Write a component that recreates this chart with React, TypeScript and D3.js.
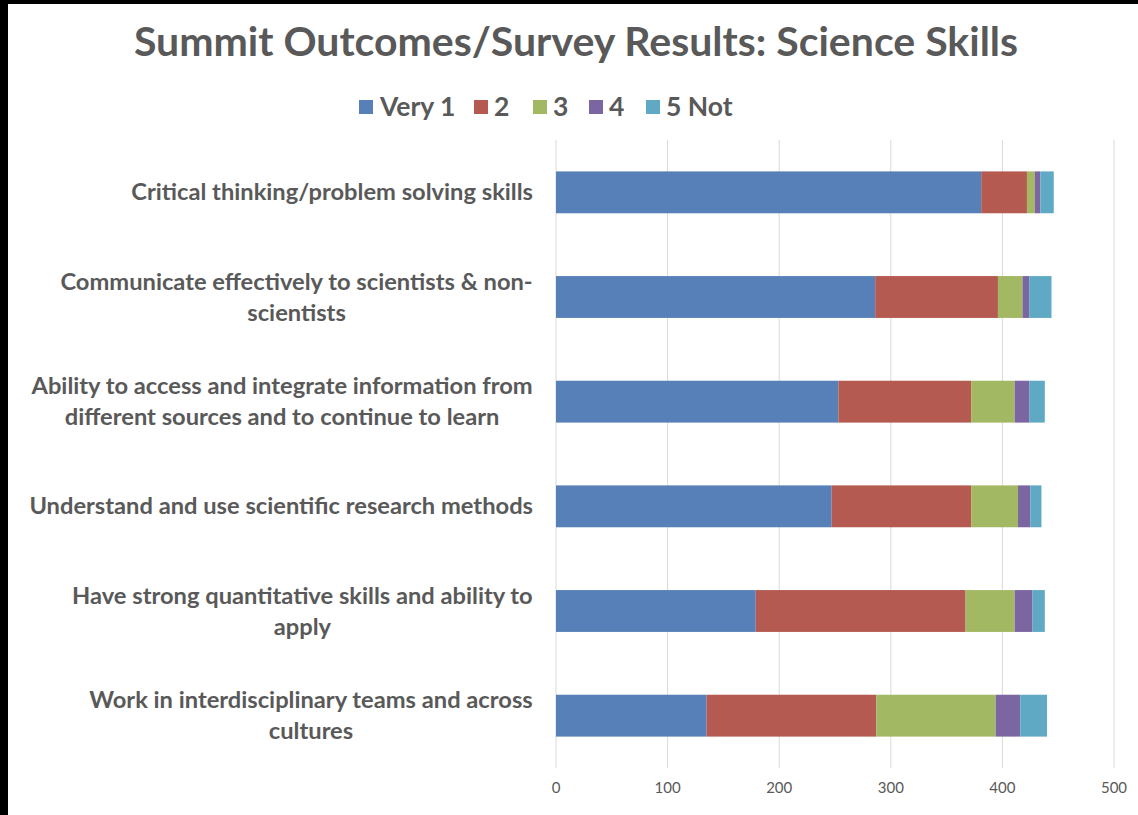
import React from "react";
import * as d3 from "d3";

const categories = [
  ["Critical thinking/problem solving skills"],
  ["Communicate effectively to scientists & non-", "scientists"],
  ["Ability to access and integrate information from", "different sources and to continue to learn"],
  ["Understand and use scientific research methods"],
  ["Have strong quantitative skills and ability to", "apply"],
  ["Work in interdisciplinary teams and across", "cultures"],
];

const seriesNames = ["Very 1", "2", "3", "4", "5 Not"];
const very1 = [381, 286, 253, 247, 179, 135];
const s2 = [41, 110, 119, 125, 188, 152];
const s3 = [7, 22, 39, 42, 44, 107];
const s4 = [5, 6, 13, 11, 16, 22];
const s5 = [12, 20, 14, 10, 11, 24];
const seriesValues = [very1, s2, s3, s4, s5];
const colors = ["#5880b8", "#b55a51", "#a2b863", "#7c66a1", "#60a9c5"];
const xTicks = [0, 100, 200, 300, 400, 500];
const title = "Summit Outcomes/Survey Results: Science Skills";

const W = 1138;
const H = 815;
const FONT = "Lato, 'Open Sans', sans-serif";
const TEXT = "#595959";
const LABEL_SIZE = 23.7;

let measureCtx: CanvasRenderingContext2D | null = null;
function measure(s: string, font: string) {
  if (!measureCtx) {
    const c = document.createElement("canvas");
    measureCtx = c.getContext("2d");
  }
  if (!measureCtx) return s.length * 11;
  measureCtx.font = font;
  return measureCtx.measureText(s).width;
}

export default function App() {
  const keys = categories.map((c) => c.join(" "));
  const x = d3.scaleLinear().domain([0, 500]).range([556, 1114]);
  const y = d3
    .scaleBand<string>()
    .domain(keys)
    .range([140, 768])
    .paddingInner(0.6)
    .paddingOuter(0.3);

  const rows = keys.map((k, i) => {
    const obj: any = { key: k };
    seriesNames.forEach((s, j) => (obj[s] = seriesValues[j][i]));
    return obj;
  });
  const stacked = d3.stack<any>().keys(seriesNames)(rows);

  const lineH = 31;
  const labelFont = `700 ${LABEL_SIZE}px Lato`;

  const legendItems = [
    { x: 359, tx: 380 },
    { x: 474, tx: 494 },
    { x: 533, tx: 553 },
    { x: 589, tx: 609 },
    { x: 646, tx: 666 },
  ];

  return (
    <svg
      width={W}
      height={H}
      style={{ position: "absolute", left: 0, top: 0, display: "block" }}
    >
      <rect x={0} y={0} width={W} height={H} fill="#000" />
      <rect x={8} y={4} width={W - 8} height={H - 4} fill="#fff" />
      <text
        x={576}
        y={56}
        textAnchor="middle"
        fontFamily={FONT}
        fontWeight={700}
        fontSize={41}
        fill={TEXT}
      >
        {title}
      </text>

      {/* legend */}
      {seriesNames.map((s, i) => (
        <g key={s}>
          <rect x={legendItems[i].x} y={100} width={14} height={14} fill={colors[i]} />
          <text
            x={legendItems[i].tx}
            y={116}
            fontFamily={FONT}
            fontWeight={700}
            fontSize={26.5}
            fill={TEXT}
          >
            {s}
          </text>
        </g>
      ))}

      {/* gridlines */}
      {xTicks.map((t) => (
        <line
          key={t}
          x1={x(t)}
          x2={x(t)}
          y1={140}
          y2={768}
          stroke="#d9d9d9"
          strokeWidth={1}
        />
      ))}
      {xTicks.map((t) => (
        <text
          key={"l" + t}
          x={x(t)}
          y={793}
          textAnchor="middle"
          fontFamily={FONT}
          fontSize={15}
          fill={TEXT}
        >
          {t}
        </text>
      ))}

      {/* bars */}
      {stacked.map((layer, si) => (
        <g key={layer.key} fill={colors[si]}>
          {layer.map((d, i) => (
            <rect
              key={i}
              x={x(d[0])}
              y={y(keys[i])}
              width={x(d[1]) - x(d[0])}
              height={y.bandwidth()}
            />
          ))}
        </g>
      ))}

      {/* category labels */}
      {categories.map((lines, i) => {
        const cy = (y(keys[i]) as number) + y.bandwidth() / 2;
        const n = lines.length;
        const maxW = Math.max(...lines.map((l) => measure(l, labelFont)));
        const cx = 533 - maxW / 2;
        return (
          <text
            key={i}
            fontFamily={FONT}
            fontWeight={700}
            fontSize={LABEL_SIZE}
            fill={TEXT}
            textAnchor="middle"
          >
            {lines.map((ln, j) => (
              <tspan
                key={j}
                x={cx}
                y={cy + (j - (n - 1) / 2) * lineH + 8}
              >
                {ln}
              </tspan>
            ))}
          </text>
        );
      })}
    </svg>
  );
}
